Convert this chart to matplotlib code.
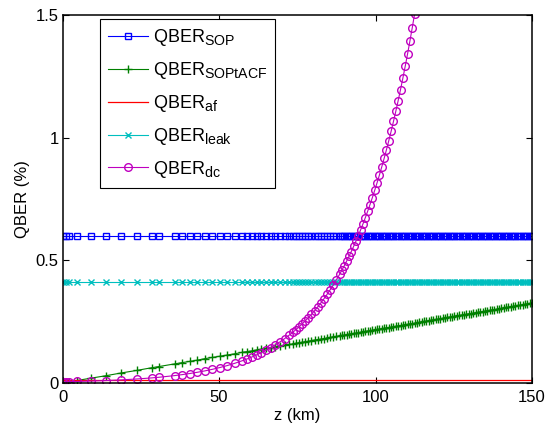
import matplotlib
matplotlib.use('Agg')
import matplotlib.pyplot as plt
import matplotlib._mathtext as mathtext_internal

plt.rcParams['font.family'] = ['Liberation Sans', 'DejaVu Sans']
plt.rcParams['mathtext.default'] = 'regular'
# MATLAB subscripts are a bit bigger than the mathtext default
mathtext_internal.SHRINK_FACTOR = 0.78

# fibre length samples (km)
z = [0, 1, 2, 4.5, 9.2, 14, 18.8, 23.6, 28.4, 30.8,
     35.8, 38.2, 40.6, 43.0, 45.4, 47.8, 50.2, 52.6, 55.0, 57.4,
     59.0, 60.5, 62.0, 63.5, 65.0, 66.5, 68.0, 69.5, 71.0, 72.5,
     73.5, 74.5, 75.5, 76.5, 77.5, 78.5, 79.5, 80.5, 81.5, 82.5,
     83.5, 84.5, 85.5, 86.5, 87.5, 88.5,
     89.25, 90.0, 90.75, 91.5, 92.25, 93.0, 93.75, 94.5, 95.25, 96.0,
     96.75, 97.5, 98.25, 99.0, 99.75, 100.5, 101.25, 102.0, 102.75, 103.5,
     104.25, 105.0, 105.75, 106.5, 107.25, 108.0, 108.75, 109.5, 110.25, 111.0,
     111.75, 112.5, 113.25, 114.0, 114.75, 115.5, 116.25, 117.0, 117.75, 118.5,
     119.25, 120.0, 120.75, 121.5, 122.25, 123.0, 123.75, 124.5, 125.25, 126.0,
     126.75, 127.5, 128.25, 129.0, 129.75, 130.5, 131.25, 132.0, 132.75, 133.5,
     134.25, 135.0, 135.75, 136.5, 137.25, 138.0, 138.75, 139.5, 140.25, 141.0,
     141.75, 142.5, 143.25, 144.0, 144.75, 145.5, 146.25, 147.0, 147.75, 148.5,
     149.25, 150.0]

qber_sop_level = 0.6
qber_af_level = 0.012
qber_leak_level = 0.41

qber_sopacf = [0.000, 0.002, 0.004, 0.010, 0.020, 0.030, 0.041, 0.051, 0.062, 0.067,
               0.078, 0.083, 0.088, 0.093, 0.099, 0.104, 0.109, 0.114, 0.119, 0.125,
               0.128, 0.131, 0.135, 0.138, 0.141, 0.144, 0.148, 0.151, 0.154, 0.157,
               0.159, 0.162, 0.164, 0.166, 0.168, 0.170, 0.173, 0.175, 0.177, 0.179,
               0.181, 0.183, 0.186, 0.188, 0.190, 0.192,
               0.194, 0.195, 0.197, 0.199, 0.200, 0.202, 0.203, 0.205, 0.207, 0.208,
               0.210, 0.212, 0.213, 0.215, 0.216, 0.218, 0.220, 0.221, 0.223, 0.225,
               0.226, 0.228, 0.229, 0.231, 0.233, 0.234, 0.236, 0.238, 0.239, 0.241,
               0.242, 0.244, 0.246, 0.247, 0.249, 0.251, 0.252, 0.254, 0.256, 0.257,
               0.259, 0.260, 0.262, 0.264, 0.265, 0.267, 0.269, 0.270, 0.272, 0.273,
               0.275, 0.277, 0.278, 0.280, 0.282, 0.283, 0.285, 0.286, 0.288, 0.290,
               0.291, 0.293, 0.295, 0.296, 0.298, 0.299, 0.301, 0.303, 0.304, 0.306,
               0.308, 0.309, 0.311, 0.312, 0.314, 0.316, 0.317, 0.319, 0.321, 0.322,
               0.324, 0.326]

# dark count term, only up to where it leaves the plot
qber_dc = [0.0049, 0.0051, 0.0054, 0.0061, 0.0078, 0.0099, 0.0127, 0.0162, 0.0206, 0.0233,
           0.0301, 0.0340, 0.0385, 0.0435, 0.0491, 0.0555, 0.0628, 0.0709, 0.0802, 0.0906,
           0.0983, 0.1061, 0.1146, 0.1237, 0.1335, 0.1441, 0.1555, 0.1679, 0.1812, 0.1957,
           0.2059, 0.2167, 0.2280, 0.2399, 0.2525, 0.2657, 0.2796, 0.2942, 0.3096, 0.3258,
           0.3429, 0.3608, 0.3797, 0.3995, 0.4204, 0.4424,
           0.4596, 0.4776, 0.4962, 0.5155, 0.5356, 0.5565, 0.5782, 0.6007, 0.6241, 0.6485,
           0.6738, 0.7000, 0.7273, 0.7557, 0.7852, 0.8158, 0.8476, 0.8806, 0.9149, 0.9506,
           0.9877, 1.0262, 1.0662, 1.1078, 1.1510, 1.1959, 1.2425, 1.2910, 1.3413, 1.3936,
           1.4480, 1.5044, 1.5631]

fig = plt.figure(figsize=(5.45, 4.26), dpi=100)
ax = fig.add_axes([0.115, 0.101, 0.861, 0.864])

ax.plot(z, [qber_sop_level] * len(z), '-s', color='#0000ff', mfc='none', ms=5, lw=0.8,
        label='QBER$_{SOP}$')
ax.plot(z, qber_sopacf, '-+', color='#008000', ms=6, lw=0.8,
        label='QBER$_{SOPtACF}$')
ax.plot(z, [qber_af_level] * len(z), '-', color='#ff0000', lw=0.9,
        label='QBER$_{af}$')
ax.plot(z, [qber_leak_level] * len(z), '-x', color='#00bfbf', ms=4.5, lw=0.8,
        label='QBER$_{leak}$')
ax.plot(z[:len(qber_dc)], qber_dc, '-o', color='#bf00bf', mfc='none', ms=5.5, lw=0.8,
        label='QBER$_{dc}$')

ax.set_xlim(0, 150)
ax.set_ylim(0, 1.5)
ax.set_xticks([0, 50, 100, 150])
ax.set_yticks([0, 0.5, 1, 1.5])
ax.set_yticklabels(['0', '0.5', '1', '1.5'])
ax.tick_params(direction='in', top=True, right=True, length=4, width=0.8, labelsize=12)
ax.tick_params(axis='x', pad=5)
ax.tick_params(axis='y', pad=3)
for s in ax.spines.values():
    s.set_linewidth(1.1)

ax.set_xlabel('z (km)', fontsize=12, labelpad=2)
ax.set_ylabel('QBER (%)', fontsize=12, labelpad=4)

leg = ax.legend(loc='upper left', bbox_to_anchor=(0.0795, 0.989), borderaxespad=0,
                fontsize=13, numpoints=1, handlelength=2.2, handletextpad=0.28,
                labelspacing=0.66, borderpad=0.45, fancybox=False, framealpha=1)
leg.get_frame().set_edgecolor('black')
leg.get_frame().set_linewidth(0.8)

fig.savefig('out.png', dpi=100)
